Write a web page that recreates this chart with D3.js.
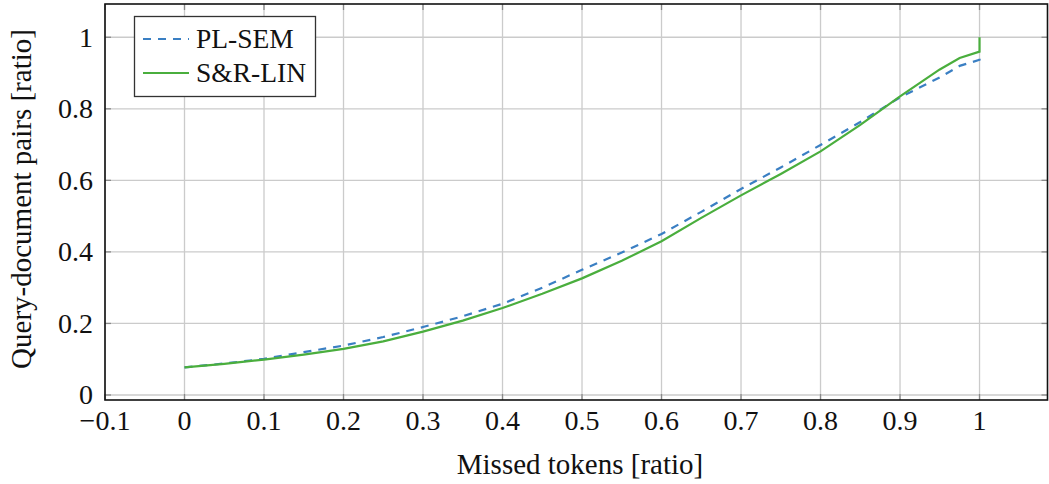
<!DOCTYPE html>
<html>
<head>
<meta charset="utf-8">
<script src="https://cdn.jsdelivr.net/npm/d3@7"></script>
<style>
  body { margin: 0; background: #fff; }
  svg text { font-family: "Liberation Serif", "DejaVu Serif", serif; fill: #111; }
</style>
</head>
<body>
<div id="chart"></div>
<script>
// missed tokens ratio (x) and cumulative share of query-document pairs (y)
const xVals = [0, 0.05, 0.1, 0.15, 0.2, 0.25, 0.3, 0.35, 0.4, 0.45, 0.5, 0.55, 0.6,
    0.65, 0.7, 0.75, 0.8, 0.85, 0.9, 0.95, 0.975, 1, 1];
const plSem = [0.077, 0.088, 0.101, 0.12, 0.138, 0.162, 0.19, 0.22, 0.255, 0.3, 0.35, 0.398, 0.45,
    0.512, 0.576, 0.636, 0.699, 0.763, 0.832, 0.888, 0.92, 0.937, 0.951];
const srLin = [0.077, 0.087, 0.099, 0.113, 0.129, 0.15, 0.177, 0.208, 0.243, 0.283, 0.326, 0.375, 0.43,
    0.495, 0.558, 0.618, 0.681, 0.755, 0.835, 0.91, 0.942, 0.96, 1.0];
const xTicks = [-0.1, 0, 0.1, 0.2, 0.3, 0.4, 0.5, 0.6, 0.7, 0.8, 0.9, 1];
const yTicks = [0, 0.2, 0.4, 0.6, 0.8, 1];
const seriesNames = ["PL-SEM", "S&R-LIN"];

const W = 1049, H = 484;
const mLeft = 105, mRight = 1047.5, mTop = 4, mBottom = 400;

const x = d3.scaleLinear().domain([-0.1, 1.0855]).range([mLeft, mRight]);
const y = d3.scaleLinear().domain([-0.014, 1.093]).range([mBottom, mTop]);

const svg = d3.select("#chart").append("svg")
    .attr("width", W).attr("height", H);

/* grid lines */
const grid = svg.append("g").attr("stroke", "#cbcbcb").attr("stroke-width", 1.3);
grid.selectAll("line.gx").data(xTicks).join("line")
    .attr("x1", d => x(d)).attr("x2", d => x(d))
    .attr("y1", mTop).attr("y2", mBottom);
grid.selectAll("line.gy").data(yTicks).join("line")
    .attr("x1", mLeft).attr("x2", mRight)
    .attr("y1", d => y(d)).attr("y2", d => y(d));

/* inward tick marks on all four sides */
const tk = svg.append("g").attr("stroke", "#8a8a8a").attr("stroke-width", 1.3);
xTicks.forEach(d => {
    tk.append("line").attr("x1", x(d)).attr("x2", x(d)).attr("y1", mBottom).attr("y2", mBottom - 6);
    tk.append("line").attr("x1", x(d)).attr("x2", x(d)).attr("y1", mTop).attr("y2", mTop + 6);
});
yTicks.forEach(d => {
    tk.append("line").attr("x1", mLeft).attr("x2", mLeft + 6).attr("y1", y(d)).attr("y2", y(d));
    tk.append("line").attr("x1", mRight).attr("x2", mRight - 6).attr("y1", y(d)).attr("y2", y(d));
});

/* curves */
const line = d3.line().x(d => x(d[0])).y(d => y(d[1]));
const plData = xVals.map((v, i) => [v, plSem[i]]);
const srData = xVals.map((v, i) => [v, srLin[i]]);

svg.append("path").attr("d", line(plData))
    .attr("fill", "none").attr("stroke", "#3a7fc3").attr("stroke-width", 2.2)
    .attr("stroke-dasharray", "8,7");
svg.append("path").attr("d", line(srData))
    .attr("fill", "none").attr("stroke", "#4aae3d").attr("stroke-width", 2.2);

/* frame */
svg.append("rect")
    .attr("x", mLeft).attr("y", mTop)
    .attr("width", mRight - mLeft).attr("height", mBottom - mTop)
    .attr("fill", "none").attr("stroke", "#111").attr("stroke-width", 1.6);

/* tick labels */
const fmt = d => (d < 0 ? "\u2212" : "") + String(Math.abs(d));
svg.append("g").selectAll("text").data(xTicks).join("text")
    .attr("x", d => x(d)).attr("y", 430)
    .attr("text-anchor", "middle").attr("font-size", 28)
    .text(fmt);
svg.append("g").selectAll("text").data(yTicks).join("text")
    .attr("x", 93).attr("y", d => y(d) + 9.5)
    .attr("text-anchor", "end").attr("font-size", 28)
    .text(fmt);

/* axis titles */
svg.append("text")
    .attr("x", 580).attr("y", 474)
    .attr("text-anchor", "middle").attr("font-size", 29)
    .text("Missed tokens [ratio]");
svg.append("text")
    .attr("transform", "translate(31, 199) rotate(-90)")
    .attr("text-anchor", "middle").attr("font-size", 29)
    .text("Query-document pairs [ratio]");

/* legend */
const lg = svg.append("g");
lg.append("rect")
    .attr("x", 134.5).attr("y", 16.5).attr("width", 181).attr("height", 80)
    .attr("fill", "#fff").attr("stroke", "#333").attr("stroke-width", 1.3);
const rows = [
    { name: seriesNames[0], color: "#3a7fc3", dash: "8,7", y: 39 },
    { name: seriesNames[1], color: "#4aae3d", dash: null, y: 73 }
];
rows.forEach(r => {
    lg.append("line")
        .attr("x1", 143).attr("x2", 189).attr("y1", r.y).attr("y2", r.y)
        .attr("stroke", r.color).attr("stroke-width", 2.2)
        .attr("stroke-dasharray", r.dash);
    lg.append("text")
        .attr("x", 196).attr("y", r.y + 9)
        .attr("font-size", 27.5)
        .text(r.name);
});
</script>
</body>
</html>
